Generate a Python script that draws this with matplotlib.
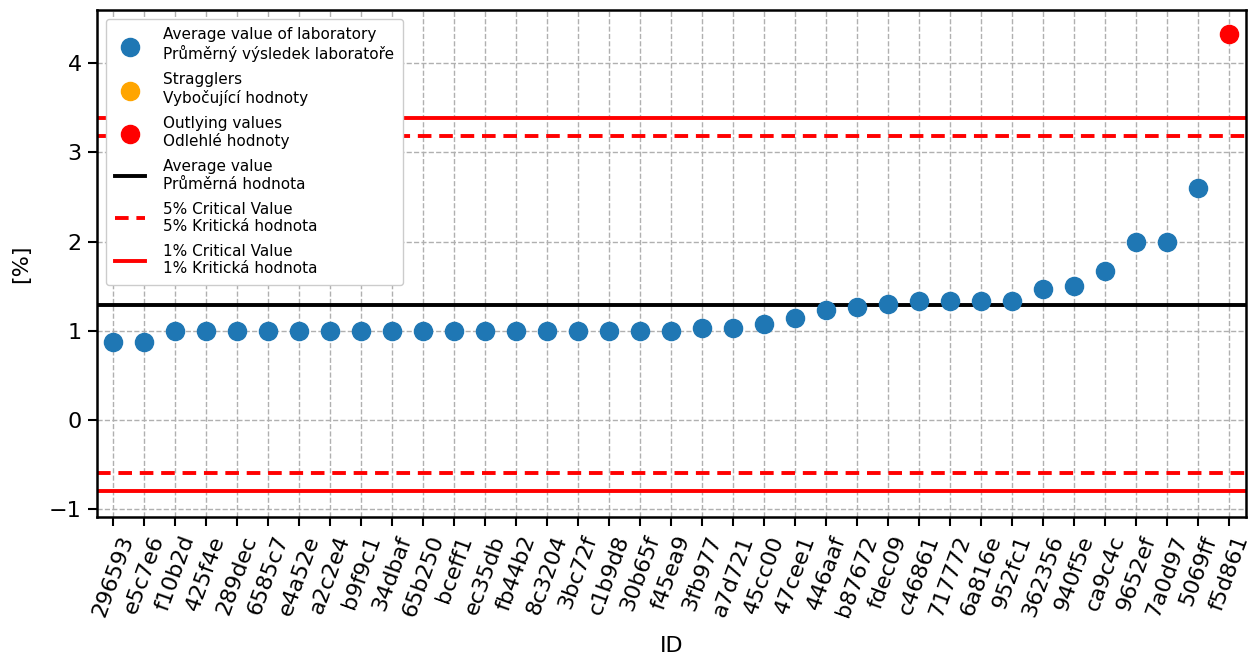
import matplotlib
matplotlib.use("Agg")
import matplotlib.pyplot as plt
import numpy as np

ids = ["296593", "e5c7e6", "f10b2d", "425f4e", "289dec", "6585c7", "e4a52e",
       "a2c2e4", "b9f9c1", "34dbaf", "65b250", "bceff1", "ec35db", "fb44b2",
       "8c3204", "3bc72f", "c1b9d8", "30b65f", "f45ea9", "3fb977", "a7d721",
       "45cc00", "47cee1", "446aaf", "b87672", "fdec09", "c46861", "717772",
       "6a816e", "952fc1", "362356", "940f5e", "ca9c4c", "9652ef", "7a0d97",
       "5069ff", "f5d861"]
values = [0.87, 0.87, 1.0, 1.0, 1.0, 1.0, 1.0, 1.0, 1.0, 1.0, 1.0, 1.0, 1.0,
          1.0, 1.0, 1.0, 1.0, 1.0, 1.0, 1.035, 1.035, 1.07, 1.14, 1.235, 1.27,
          1.30, 1.335, 1.335, 1.335, 1.335, 1.47, 1.50, 1.67, 2.0, 2.0, 2.60,
          4.33]
outliers = ["f5d861"]
stragglers = []

average = 1.29
crit5 = [-0.595, 3.18]
crit1 = [-0.80, 3.39]

fig = plt.figure(figsize=(12.6, 6.56), dpi=100)
ax = fig.add_axes([0.077, 0.212, 0.912, 0.773])

x = np.arange(len(ids))
vals = np.array(values)
is_out = np.array([i in outliers for i in ids])
is_str = np.array([i in stragglers for i in ids])
normal = ~is_out & ~is_str

ax.scatter(x[normal], vals[normal], s=170, color="#1f77b4", zorder=3,
           label="Average value of laboratory\nPrůměrný výsledek laboratoře")
ax.scatter(x[is_str], vals[is_str], s=170, color="orange", zorder=3,
           label="Stragglers\nVybočující hodnoty")
ax.scatter(x[is_out], vals[is_out], s=170, color="red", zorder=3,
           label="Outlying values\nOdlehlé hodnoty")

ax.axhline(average, color="black", lw=2.8, zorder=2,
           label="Average value\nPrůměrná hodnota")
ax.axhline(crit5[1], color="red", lw=2.8, ls=(0, (3.5, 2)), zorder=2,
           label="5% Critical Value\n5% Kritická hodnota")
ax.axhline(crit5[0], color="red", lw=2.8, ls=(0, (3.5, 2)), zorder=2)
ax.axhline(crit1[1], color="red", lw=2.8, zorder=2,
           label="1% Critical Value\n1% Kritická hodnota")
ax.axhline(crit1[0], color="red", lw=2.8, zorder=2)

ax.set_xlim(-0.52, len(ids) - 0.45)
ax.set_ylim(-1.09, 4.6)
ax.set_xticks(x)
ax.set_xticklabels(ids, rotation=70, fontsize=16)
ax.set_yticks([-1, 0, 1, 2, 3, 4])
ax.tick_params(axis="y", labelsize=16, length=6.5, width=1.5, pad=4.5)
ax.tick_params(axis="x", length=6.5, width=1.5, pad=5)
for s in ax.spines.values():
    s.set_linewidth(1.8)

ax.grid(True, ls="--", color="#b0b0b0", lw=1.0, zorder=0)
ax.set_axisbelow(True)

ax.set_xlabel("ID", fontsize=16, labelpad=12)
ax.set_ylabel("[%]", fontsize=16, labelpad=13)

leg = ax.legend(loc="upper left", fontsize=11, borderaxespad=0.6,
                handlelength=2.0, labelspacing=0.65, handletextpad=1.2,
                borderpad=0.55, framealpha=1)
leg.set_zorder(5)

fig.savefig("out.png", dpi=100)
